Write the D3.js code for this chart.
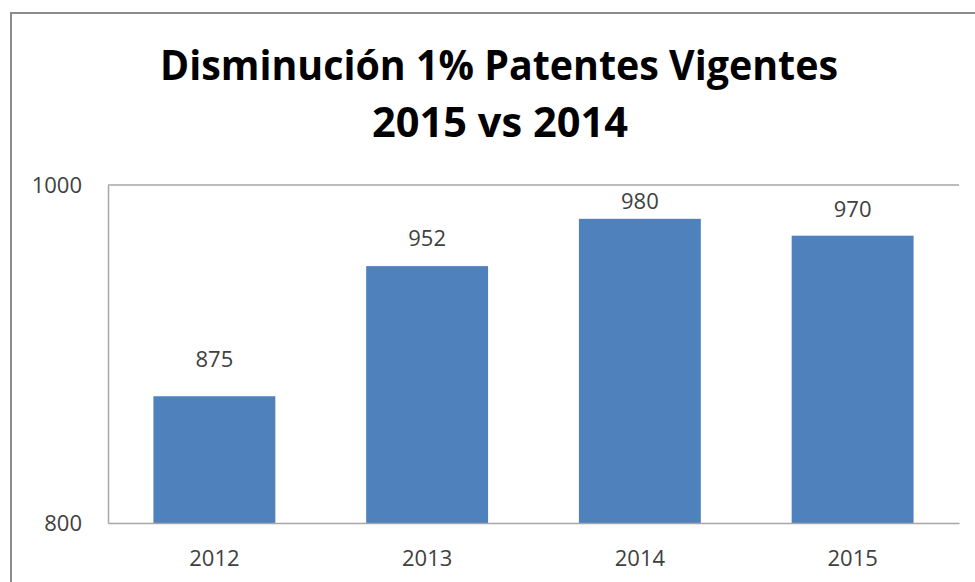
<!DOCTYPE html>
<html>
<head>
<meta charset="utf-8">
<script src="https://cdn.jsdelivr.net/npm/d3@7"></script>
<style>
  body { margin: 0; background: #fff; }
  text { font-family: "Open Sans", sans-serif; fill: #404040; }
</style>
</head>
<body>
<svg id="chart" width="975" height="582"></svg>
<script>
  const years = ["2012", "2013", "2014", "2015"];
  const patentes = [875, 952, 980, 970];
  const yTicks = [800, 1000];
  const titleLines = ["Disminución 1% Patentes Vigentes", "2015 vs 2014"];

  const svg = d3.select("#chart");

  // marco exterior (solo se ven borde superior e izquierdo)
  svg.append("rect")
    .attr("x", 11).attr("y", 13)
    .attr("width", 1000).attr("height", 600)
    .attr("fill", "none")
    .attr("stroke", "#8c8c8c")
    .attr("stroke-width", 2);

  const plotLeft = 108, plotRight = 959, plotTop = 185, plotBottom = 523;
  // separacion etiqueta-barra (las etiquetas del original no estan alineadas igual)
  const labelGap = [29, 20, 10, 19];

  const x = d3.scaleBand()
    .domain(years)
    .range([plotLeft, plotRight])
    .paddingInner(0.427)
    .paddingOuter(0.2135);

  const y = d3.scaleLinear()
    .domain([800, 1000])
    .range([plotBottom, plotTop]);

  // titulo
  svg.append("text")
    .attr("x", 499).attr("y", 80)
    .attr("text-anchor", "middle")
    .attr("font-size", 42).attr("font-weight", "bold")
    .attr("textLength", 678).attr("lengthAdjust", "spacingAndGlyphs")
    .style("fill", "#000")
    .text(titleLines[0]);
  svg.append("text")
    .attr("x", 500).attr("y", 137)
    .attr("text-anchor", "middle")
    .attr("font-size", 42).attr("font-weight", "bold")
    .attr("textLength", 256).attr("lengthAdjust", "spacingAndGlyphs")
    .style("fill", "#000")
    .text(titleLines[1]);

  // linea de cuadricula superior
  svg.append("line")
    .attr("x1", plotLeft).attr("x2", plotRight)
    .attr("y1", y(1000)).attr("y2", y(1000))
    .attr("stroke", "#a6a6a6").attr("stroke-width", 1.5);

  // eje y
  const yAxis = svg.append("g")
    .attr("transform", `translate(${plotLeft},0)`)
    .call(d3.axisLeft(y).tickValues(yTicks).tickFormat(d3.format("d")).tickSize(0).tickPadding(26));
  yAxis.select(".domain").attr("stroke", "#a6a6a6").attr("stroke-width", 1.5);
  yAxis.selectAll("text")
    .attr("font-size", 22)
    .style("font-family", "'Open Sans', sans-serif")
    .style("fill", "#404040");

  // barras
  svg.selectAll(".bar")
    .data(years)
    .enter()
    .append("rect")
    .attr("class", "bar")
    .attr("x", (d) => x(d))
    .attr("width", x.bandwidth())
    .attr("y", (d, i) => y(patentes[i]))
    .attr("height", (d, i) => plotBottom - y(patentes[i]))
    .attr("fill", "#4f81bd");

  // etiquetas de valor
  svg.selectAll(".val")
    .data(years)
    .enter()
    .append("text")
    .attr("class", "val")
    .attr("x", (d) => x(d) + x.bandwidth() / 2)
    .attr("y", (d, i) => y(patentes[i]) - labelGap[i])
    .attr("text-anchor", "middle")
    .attr("font-size", 22)
    .text((d, i) => patentes[i]);

  // eje x
  const xAxis = svg.append("g")
    .attr("transform", `translate(0,${plotBottom})`)
    .call(d3.axisBottom(x).tickSize(0).tickPadding(27));
  xAxis.select(".domain").attr("stroke", "#a6a6a6").attr("stroke-width", 1.5);
  xAxis.selectAll("text")
    .attr("font-size", 22)
    .style("font-family", "'Open Sans', sans-serif")
    .style("fill", "#404040");
</script>
</body>
</html>
